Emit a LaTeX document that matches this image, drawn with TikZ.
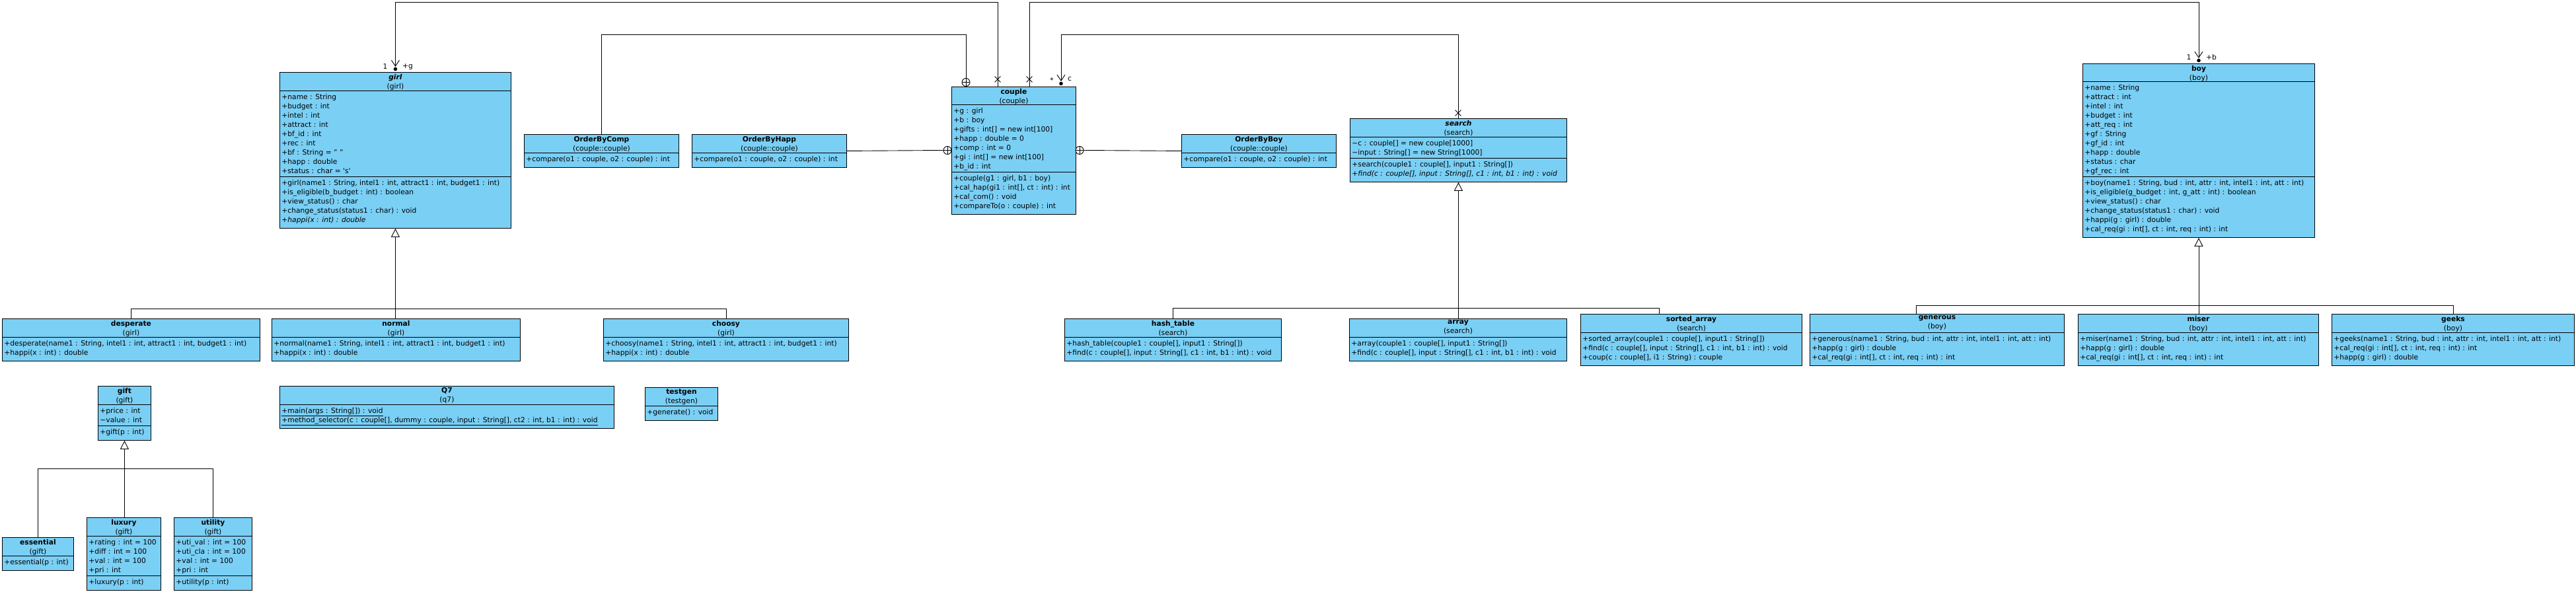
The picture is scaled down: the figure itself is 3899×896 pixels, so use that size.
\documentclass[tikz,border=0pt]{standalone}
\usepackage{fontspec}
\setmainfont{DejaVu Sans}
\usetikzlibrary{arrows.meta,shapes.misc}
\definecolor{vpblue}{RGB}{122,207,245}
\tikzset{
  cls/.style={draw, fill=vpblue, anchor=north west, inner sep=0pt},
  ttl/.style={anchor=north, align=center, inner sep=0pt},
  mem/.style={anchor=north west, align=left, inner sep=0pt},
  lbl/.style={inner sep=0pt},
  gen/.style={-{Triangle[open, length=13pt, width=13pt]}},
  assoc/.style={-{Straight Barb[length=9pt, width=12pt]}, shorten >=8pt},
  nest/.style={circle, draw, fill=white, minimum size=12pt, inner sep=0pt},
  nonav/.style={cross out, draw, minimum size=8pt, inner sep=0pt}
}
\begin{document}
\begin{tikzpicture}[x=1pt, y=-1pt, font=\fontsize{10.7}{14}\selectfont, line width=0.9pt]
\fill[white] (0,0) rectangle (3899,896);
\useasboundingbox (0,0) rectangle (3899,896);

% girl
\node[cls, minimum width=350pt, minimum height=236pt] (girl) at (423,109) {};
\node[ttl] (girl-t) at ([yshift=-2.5pt]girl.north) {\textbf{\textit{girl}}\\(girl)};
\draw (423,137) -- +(350,0) (423,267) -- +(350,0);
\node[mem] (girl-a) at (426,141.5) {+name : String\\+budget : int\\+intel : int\\+attract : int\\+bf\_id : int\\+rec : int\\+bf : String = " "\\+happ : double\\+status : char = \textquotesingle s\textquotesingle};
\node[mem] (girl-m) at (426,271.5) {+girl(name1 : String, intel1 : int, attract1 : int, budget1 : int)\\+is\_eligible(b\_budget : int) : boolean\\+view\_status() : char\\+change\_status(status1 : char) : void\\\textit{+happi(x : int) : double}};

% comparators
\node[cls, minimum width=234pt, minimum height=50pt] (obc) at (793,203) {};
\node[ttl] (obc-t) at ([yshift=-2.5pt]obc.north) {\textbf{OrderByComp}\\(couple::couple)};
\draw (793,231) -- +(234,0);
\node[mem] (obc-m) at (796,235.5) {+compare(o1 : couple, o2 : couple) : int};

\node[cls, minimum width=234pt, minimum height=50pt] (obh) at (1047,203) {};
\node[ttl] (obh-t) at ([yshift=-2.5pt]obh.north) {\textbf{OrderByHapp}\\(couple::couple)};
\draw (1047,231) -- +(234,0);
\node[mem] (obh-m) at (1050,235.5) {+compare(o1 : couple, o2 : couple) : int};

\node[cls, minimum width=234pt, minimum height=50pt] (obb) at (1788,203) {};
\node[ttl] (obb-t) at ([yshift=-2.5pt]obb.north) {\textbf{OrderByBoy}\\(couple::couple)};
\draw (1788,231) -- +(234,0);
\node[mem] (obb-m) at (1791,235.5) {+compare(o1 : couple, o2 : couple) : int};

% couple
\node[cls, minimum width=188pt, minimum height=193pt] (cpl) at (1440,131) {};
\node[ttl] (cpl-t) at ([yshift=-2.5pt]cpl.north) {\textbf{couple}\\(couple)};
\draw (1440,158) -- +(188,0) (1440,260) -- +(188,0);
\node[mem] (cpl-a) at (1443,162.5) {+g : girl\\+b : boy\\+gifts : int[] = new int[100]\\+happ : double = 0\\+comp : int = 0\\+gi : int[] = new int[100]\\+b\_id : int};
\node[mem] (cpl-m) at (1443,264.5) {+couple(g1 : girl, b1 : boy)\\+cal\_hap(gi1 : int[], ct : int) : int\\+cal\_com() : void\\+compareTo(o : couple) : int};

% search
\node[cls, minimum width=328pt, minimum height=96pt] (srch) at (2043,179) {};
\node[ttl] (srch-t) at ([yshift=-2.5pt]srch.north) {\textbf{\textit{search}}\\(search)};
\draw (2043,207) -- +(328,0) (2043,239) -- +(328,0);
\node[mem] (srch-a) at (2046,211.5) {\textasciitilde c : couple[] = new couple[1000]\\\textasciitilde input : String[] = new String[1000]};
\node[mem] (srch-m) at (2046,243.5) {+search(couple1 : couple[], input1 : String[])\\\textit{+find(c : couple[], input : String[], c1 : int, b1 : int) : void}};

% boy
\node[cls, minimum width=351pt, minimum height=263pt] (boy) at (3152,96) {};
\node[ttl] (boy-t) at ([yshift=-2.5pt]boy.north) {\textbf{boy}\\(boy)};
\draw (3152,123) -- +(351,0) (3152,267) -- +(351,0);
\node[mem] (boy-a) at (3155,127.5) {+name : String\\+attract : int\\+intel : int\\+budget : int\\+att\_req : int\\+gf : String\\+gf\_id : int\\+happ : double\\+status : char\\+gf\_rec : int};
\node[mem] (boy-m) at (3155,271.5) {+boy(name1 : String, bud : int, attr : int, intel1 : int, att : int)\\+is\_eligible(g\_budget : int, g\_att : int) : boolean\\+view\_status() : char\\+change\_status(status1 : char) : void\\+happi(g : girl) : double\\+cal\_req(gi : int[], ct : int, req : int) : int};

% girl subclasses
\node[cls, minimum width=390pt, minimum height=64pt] (dsp) at (3,482) {};
\node[ttl] (dsp-t) at ([yshift=-2.5pt]dsp.north) {\textbf{desperate}\\(girl)};
\draw (3,510) -- +(390,0);
\node[mem] (dsp-m) at (6,514.5) {+desperate(name1 : String, intel1 : int, attract1 : int, budget1 : int)\\+happi(x : int) : double};

\node[cls, minimum width=376pt, minimum height=64pt] (nrm) at (411,482) {};
\node[ttl] (nrm-t) at ([yshift=-2.5pt]nrm.north) {\textbf{normal}\\(girl)};
\draw (411,510) -- +(376,0);
\node[mem] (nrm-m) at (414,514.5) {+normal(name1 : String, intel1 : int, attract1 : int, budget1 : int)\\+happi(x : int) : double};

\node[cls, minimum width=371pt, minimum height=64pt] (chs) at (913,482) {};
\node[ttl] (chs-t) at ([yshift=-2.5pt]chs.north) {\textbf{choosy}\\(girl)};
\draw (913,510) -- +(371,0);
\node[mem] (chs-m) at (916,514.5) {+choosy(name1 : String, intel1 : int, attract1 : int, budget1 : int)\\+happi(x : int) : double};

% search subclasses
\node[cls, minimum width=328pt, minimum height=64pt] (hsh) at (1611,482) {};
\node[ttl] (hsh-t) at ([yshift=-2.5pt]hsh.north) {\textbf{hash\_table}\\(search)};
\draw (1611,510) -- +(328,0);
\node[mem] (hsh-m) at (1614,514.5) {+hash\_table(couple1 : couple[], input1 : String[])\\+find(c : couple[], input : String[], c1 : int, b1 : int) : void};

\node[cls, minimum width=329pt, minimum height=64pt] (arr) at (2042,482) {};
\node[ttl] (arr-t) at ([yshift=-2.5pt]arr.north) {\textbf{array}\\(search)};
\draw (2042,510) -- +(329,0);
\node[mem] (arr-m) at (2045,514.5) {+array(couple1 : couple[], input1 : String[])\\+find(c : couple[], input : String[], c1 : int, b1 : int) : void};

\node[cls, minimum width=335pt, minimum height=78pt] (srt) at (2392,475) {};
\node[ttl] (srt-t) at ([yshift=-2.5pt]srt.north) {\textbf{sorted\_array}\\(search)};
\draw (2392,503) -- +(335,0);
\node[mem] (srt-m) at (2395,507.5) {+sorted\_array(couple1 : couple[], input1 : String[])\\+find(c : couple[], input : String[], c1 : int, b1 : int) : void\\+coup(c : couple[], i1 : String) : couple};

% boy subclasses
\node[cls, minimum width=385pt, minimum height=78pt] (gnr) at (2739,475) {};
\node[ttl] (gnr-t) at ([yshift=-2.5pt]gnr.north) {\textbf{generous}\\(boy)};
\draw (2739,503) -- +(385,0);
\node[mem] (gnr-m) at (2742,507.5) {+generous(name1 : String, bud : int, attr : int, intel1 : int, att : int)\\+happ(g : girl) : double\\+cal\_req(gi : int[], ct : int, req : int) : int};

\node[cls, minimum width=364pt, minimum height=78pt] (msr) at (3145,475) {};
\node[ttl] (msr-t) at ([yshift=-2.5pt]msr.north) {\textbf{miser}\\(boy)};
\draw (3145,503) -- +(364,0);
\node[mem] (msr-m) at (3148,507.5) {+miser(name1 : String, bud : int, attr : int, intel1 : int, att : int)\\+happ(g : girl) : double\\+cal\_req(gi : int[], ct : int, req : int) : int};

\node[cls, minimum width=367pt, minimum height=78pt] (gks) at (3529,475) {};
\node[ttl] (gks-t) at ([yshift=-2.5pt]gks.north) {\textbf{geeks}\\(boy)};
\draw (3529,503) -- +(367,0);
\node[mem] (gks-m) at (3532,507.5) {+geeks(name1 : String, bud : int, attr : int, intel1 : int, att : int)\\+cal\_req(gi : int[], ct : int, req : int) : int\\+happ(g : girl) : double};

% Q7 and testgen
\node[cls, minimum width=506pt, minimum height=64pt] (q7) at (423,584) {};
\node[ttl] (q7-t) at ([yshift=-2.5pt]q7.north) {\textbf{Q7}\\(q7)};
\draw (423,612) -- +(506,0);
\node[mem] (q7-m) at (426,616.5) {\underline{+main(args : String[]) : void}\\\underline{+method\_selector(c : couple[], dummy : couple, input : String[], ct2 : int, b1 : int) : void}};

\node[cls, minimum width=110pt, minimum height=50pt] (tgen) at (976,586) {};
\node[ttl] (tgen-t) at ([yshift=-2.5pt]tgen.north) {\textbf{testgen}\\(testgen)};
\draw (976,614) -- +(110,0);
\node[mem] (tgen-m) at (979,618.5) {+generate() : void};

% gifts
\node[cls, minimum width=80pt, minimum height=82pt] (gift) at (148,584) {};
\node[ttl] (gift-t) at ([yshift=-2.5pt]gift.north) {\textbf{gift}\\(gift)};
\draw (148,612) -- +(80,0) (148,644) -- +(80,0);
\node[mem] (gift-a) at (151,616.5) {+price : int\\\textasciitilde value : int};
\node[mem] (gift-m) at (151,648.5) {+gift(p : int)};

\node[cls, minimum width=108pt, minimum height=50pt] (ess) at (3,813) {};
\node[ttl] (ess-t) at ([yshift=-2.5pt]ess.north) {\textbf{essential}\\(gift)};
\draw (3,841) -- +(108,0);
\node[mem] (ess-m) at (6,845.5) {+essential(p : int)};

\node[cls, minimum width=112pt, minimum height=110pt] (lux) at (131,783) {};
\node[ttl] (lux-t) at ([yshift=-2.5pt]lux.north) {\textbf{luxury}\\(gift)};
\draw (131,811) -- +(112,0) (131,871) -- +(112,0);
\node[mem] (lux-a) at (134,815.5) {+rating : int = 100\\+diff : int = 100\\+val : int = 100\\+pri : int};
\node[mem] (lux-m) at (134,875.5) {+luxury(p : int)};

\node[cls, minimum width=118pt, minimum height=110pt] (utl) at (263,783) {};
\node[ttl] (utl-t) at ([yshift=-2.5pt]utl.north) {\textbf{utility}\\(gift)};
\draw (263,811) -- +(118,0) (263,871) -- +(118,0);
\node[mem] (utl-a) at (266,815.5) {+uti\_val : int = 100\\+uti\_cla : int = 100\\+val : int = 100\\+pri : int};
\node[mem] (utl-m) at (266,875.5) {+utility(p : int)};

% nesting in couple
\node[nest] (pl1) at (1462,124.5) {};
\node[nest] (pl2) at (1434,227.5) {};
\node[nest] (pl3) at (1634,227.5) {};
\draw (pl1.north) -- (pl1.south) (pl1.west) -- (pl1.east);
\draw (pl2.north) -- (pl2.south) (pl2.west) -- (pl2.east);
\draw (pl3.north) -- (pl3.south) (pl3.west) -- (pl3.east);
\draw (obc.north) -- ++(0,-151) -| (pl1.north);
\draw (obh.east) -- (pl2.west);
\draw (pl3.east) -- (obb.west);

% associations
\draw[assoc] ([xshift=70pt]cpl.north west) -- ++(0,-128) -| (girl.north);
\draw[assoc] ([xshift=118pt]cpl.north west) -- ++(0,-128) -| (boy.north);
\draw[assoc] (srch.north) -- ++(0,-127) -| ([xshift=166pt]cpl.north west);
\node[nonav] (xg) at (1510,120) {};
\node[nonav] (xb) at (1558,120) {};
\node[nonav] (xs) at (2207,171) {};
\fill ([yshift=4.5pt]girl.north) circle (2.8pt);
\fill ([yshift=4.5pt]boy.north) circle (2.8pt);
\fill ([xshift=166pt,yshift=4.5pt]cpl.north west) circle (2.8pt);
\node[lbl] (g-one) at (583,101) {1};
\node[lbl] (g-role) at (617,101) {+g};
\node[lbl] (b-one) at (3313,87) {1};
\node[lbl] (b-role) at (3347,87) {+b};
\node[lbl] (c-many) at (1592,122) {*};
\node[lbl] (c-role) at (1619,120) {c};

% generalizations
\draw[gen] (girl.south |- nrm.north) -- (girl.south);
\draw (dsp.north) -- ++(0,-15) -| (chs.north);
\draw[gen] (srch.south |- arr.north) -- (srch.south);
\draw (hsh.north) -- ++(0,-16) -| ([xshift=119pt]srt.north west);
\draw[gen] (boy.south |- msr.north) -- (boy.south);
\draw ([xshift=161pt]gnr.north west) -- ++(0,-13) -| (gks.north);
\draw[gen] (gift.south |- lux.north) -- (gift.south);
\draw (ess.north) -- ++(0,-104) -| (utl.north);
\end{tikzpicture}
\end{document}
